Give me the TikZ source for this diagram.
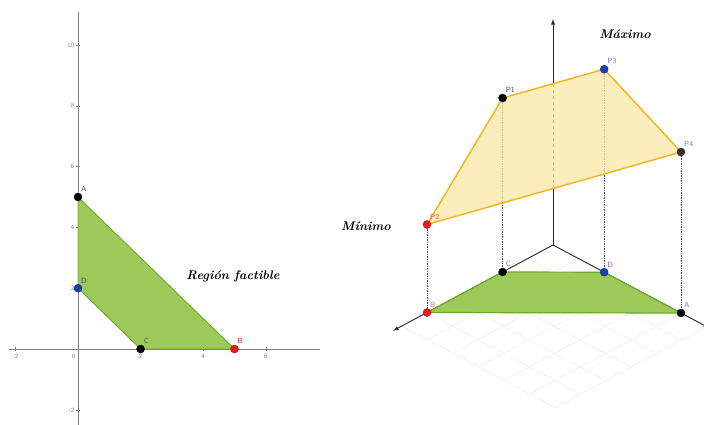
\documentclass[tikz,border=0pt]{standalone}
\usepackage{amsmath}
\usepackage{amssymb}
\definecolor{regfill}{HTML}{9CC95A}
\definecolor{regline}{HTML}{6AAA26}
\definecolor{objfill}{HTML}{FBE7A6}
\definecolor{objline}{HTML}{F2B418}
\definecolor{ptred}{HTML}{F01818}
\definecolor{ptblue}{HTML}{1A3FB0}
\definecolor{ptdark}{HTML}{333333}
\tikzset{
  dot/.style={circle,fill=#1,draw=#1!70!black,inner sep=0pt,minimum size=8pt},
  dot/.default=black,
  lab/.style={font=\sffamily\fontsize{7.5}{8}\selectfont,text=gray,inner sep=1pt,above right,xshift=2pt,yshift=4pt},
  ticklab/.style={font=\sffamily\fontsize{6.5}{7}\selectfont,text=gray,inner sep=1pt},
  axisline/.style={gray,line width=0.8pt},
  gridline/.style={black!9,line width=0.4pt},
  proj/.style={densely dotted,black!70,line width=0.7pt},
  mtext/.style={font=\bfseries\itshape\fontsize{12.5}{14}\selectfont}
}

\begin{document}
\begin{tikzpicture}[x=1pt,y=-1pt]
    \useasboundingbox (0,0) rectangle (704,424);

    % plane view
    \begin{scope}[shift={(78,349)},x=31.3pt,y=30.4pt]
        \draw[axisline] (-2.2,0) -- (7.73,0);
        \draw[axisline] (0,-2.5) -- (0,11.1);
        \foreach \v in {-2,2,4,6} {
            \draw[axisline,line width=0.5pt] (\v,0.07) -- (\v,-0.07);
            \node[ticklab,below] (xt\v) at (\v,-0.12) {\v};
        }
        \node[ticklab,below left] (xt0) at (-0.05,-0.12) {0};
        \foreach \v in {-2,2,4,6,8,10} {
            \draw[axisline,line width=0.5pt] (-0.06,\v) -- (0.06,\v);
            \node[ticklab,left] (yt\v) at (-0.08,\v) {\v};
        }
        \coordinate (a) at (0,5);
        \coordinate (b) at (5,0);
        \coordinate (c) at (2,0);
        \coordinate (d) at (0,2);
        \filldraw[regline,fill=regfill,line width=0.9pt] (a) -- (b) -- (c) -- (d) -- cycle;
        \node[dot] (A) at (a) {};
        \node[dot=ptblue] (D) at (d) {};
        \node[dot] (C) at (c) {};
        \node[dot=ptred] (B) at (b) {};
        \node[lab,text=black!70] (la) at (a) {A};
        \node[lab,text=ptblue] (ld) at (d) {D};
        \node[lab,text=black!70] (lc) at (c) {C};
        \node[lab,text=ptred] (lb) at (b) {B};
    \end{scope}
    \node[mtext] (reg) at (233,276) {Región factible};

    % space view
    \begin{scope}[shift={(553,245)},x={(-25.2pt,-13.5pt)},y={(25.6pt,-13.6pt)},z={(0pt,1pt)}]
        \foreach \i in {0,...,6} {
            \draw[gridline] (\i,0,0) -- (\i,6,0);
            \draw[gridline] (0,\i,0) -- (6,\i,0);
        }
        \coordinate (o) at (0,0,0);
        \coordinate (fb) at (5,0,0);
        \coordinate (fc) at (2,0,0);
        \coordinate (fd) at (0,2,0);
        \coordinate (fa) at (0,5,0);
        \coordinate (p2) at (5,0,88);
        \coordinate (p1) at (2,0,174);
        \coordinate (p3) at (0,2,203);
        \coordinate (p4) at (0,5,161);
        \coordinate (xe) at (6.35,0,0);
        \coordinate (ye) at (0,6.1,0);
        \coordinate (zl) at (0,0,56);
        \coordinate (zh) at (0,0,162);
        \coordinate (ze) at (0,0,226);
        \draw[black!85,line width=0.9pt,-latex] (o) -- (xe);
        \draw[black!85,line width=0.9pt,-latex] (o) -- (ye);
        \draw[black!85,line width=0.9pt] (o) -- (zl);
        \draw[black!85,line width=0.9pt,-latex] (zh) -- (ze);
        \draw[black!85,line width=0.9pt,dashed] (zl) -- (zh);
        \filldraw[regline,fill=regfill,line width=1.2pt] (fb) -- (fc) -- (fd) -- (fa) -- cycle;
        \draw[proj] (fb) -- (p2);
        \draw[proj] (fc) -- (p1);
        \draw[proj] (fd) -- (p3);
        \draw[proj] (fa) -- (p4);
        \filldraw[objline,fill=objfill,fill opacity=0.75,line width=1.4pt] (p2) -- (p1) -- (p3) -- (p4) -- cycle;
        \node[dot] (P1) at (p1) {};
        \node[dot=ptblue] (P3) at (p3) {};
        \node[dot=ptdark] (P4) at (p4) {};
        \node[dot=ptred] (P2) at (p2) {};
        \node[dot=ptred] (B3) at (fb) {};
        \node[dot] (C3) at (fc) {};
        \node[dot=ptblue] (D3) at (fd) {};
        \node[dot] (A3) at (fa) {};
        \node[lab,text=black!75] (lp1) at (p1) {P1};
        \node[lab,text=ptblue!70] (lp3) at (p3) {P3};
        \node[lab] (lp4) at (p4) {P4};
        \node[lab,text=ptred!80] (lp2) at (p2) {P2};
        \node[lab,text=ptred!70] (lb3) at (fb) {B};
        \node[lab] (lc3) at (fc) {C};
        \node[lab,text=violet!70] (ld3) at (fd) {D};
        \node[lab] (la3) at (fa) {A};
    \end{scope}
    \node[mtext] (max) at (625,34) {Máximo};
    \node[mtext] (min) at (366,226) {Mínimo};
\end{tikzpicture}
\end{document}
